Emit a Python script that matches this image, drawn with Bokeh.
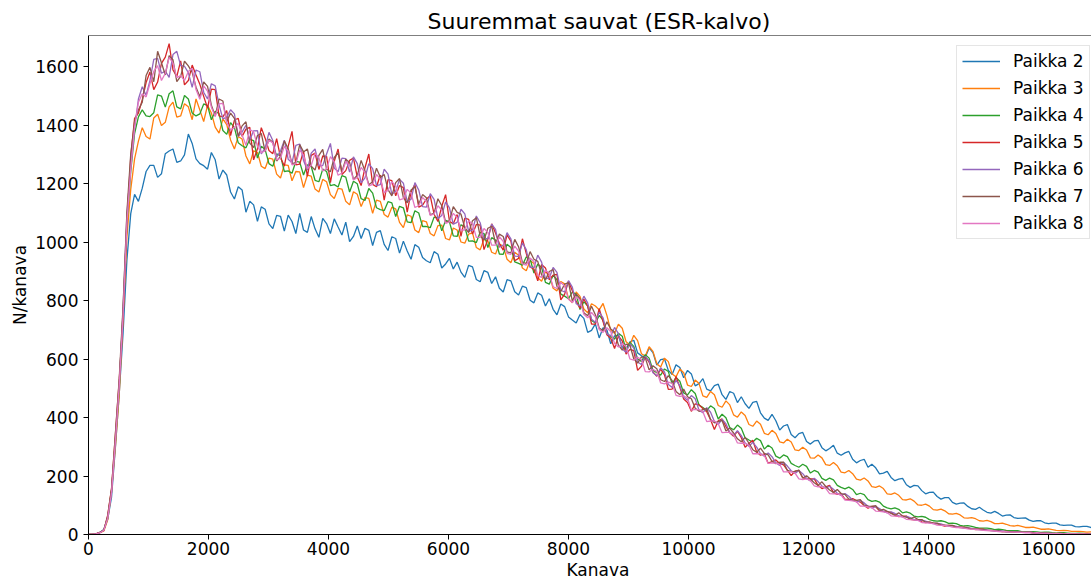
from bokeh.plotting import figure
from bokeh.models import Range1d, Legend, LegendItem, FixedTicker, Span, Title
from bokeh.embed import file_html
from bokeh.resources import INLINE

kanava = list(range(0, 16769, 64))

paikka2 = [0, 0, 1, 7, 17, 52, 128, 297, 481, 688,
           938, 1097, 1163, 1139, 1184, 1241, 1262, 1262, 1221, 1233,
           1302, 1311, 1318, 1272, 1277, 1298, 1369, 1337, 1284, 1268,
           1261, 1249, 1306, 1281, 1215, 1246, 1229, 1171, 1147, 1189,
           1178, 1102, 1139, 1127, 1071, 1120, 1112, 1062, 1046, 1091,
           1088, 1037, 1092, 1070, 1029, 1098, 1041, 1033, 1087, 1045,
           1016, 1081, 1063, 1029, 1079, 1051, 1024, 1068, 1001, 1019,
           1055, 1012, 1047, 1040, 988, 1033, 1039, 992, 971, 1018,
           1012, 962, 1003, 969, 941, 991, 982, 947, 936, 929,
           967, 958, 911, 925, 944, 908, 931, 897, 879, 920,
           915, 872, 864, 902, 896, 858, 881, 842, 829, 871,
           867, 830, 819, 849, 844, 801, 792, 826, 818, 781,
           806, 770, 751, 788, 779, 744, 733, 723, 752, 739,
           691, 698, 720, 672, 707, 699, 652, 679, 681, 641,
           634, 659, 664, 621, 611, 606, 638, 622, 579, 598,
           600, 561, 547, 580, 571, 536, 561, 549, 508, 516,
           533, 497, 491, 509, 514, 478, 462, 489, 483, 451,
           471, 447, 431, 452, 455, 416, 398, 390, 411, 389,
           357, 371, 376, 342, 331, 345, 349, 318, 309, 320,
           322, 297, 286, 294, 305, 278, 271, 279, 284, 257,
           245, 253, 257, 230, 240, 228, 207, 210, 216, 195,
           184, 189, 192, 170, 161, 168, 166, 150, 139, 144,
           145, 130, 121, 126, 126, 110, 104, 107, 108, 96,
           88, 86, 93, 84, 76, 73, 79, 72, 63, 66,
           67, 58, 55, 56, 57, 49, 45, 47, 47, 40,
           37, 39, 39, 33, 31, 32, 32, 27, 26, 28,
           28, 24, 23]

paikka3 = [0, 0, 2, 6, 12, 50, 146, 300, 478, 740,
           1017, 1180, 1284, 1345, 1391, 1361, 1352, 1424, 1437, 1398,
           1409, 1462, 1478, 1427, 1431, 1473, 1462, 1418, 1489, 1451,
           1412, 1467, 1441, 1393, 1372, 1421, 1401, 1349, 1318, 1361,
           1352, 1294, 1267, 1312, 1306, 1259, 1251, 1287, 1283, 1232,
           1219, 1264, 1262, 1209, 1241, 1240, 1186, 1229, 1225, 1181,
           1171, 1214, 1206, 1162, 1149, 1183, 1181, 1139, 1127, 1172,
           1163, 1121, 1152, 1149, 1098, 1143, 1139, 1094, 1085, 1119,
           1113, 1067, 1049, 1093, 1088, 1041, 1032, 1073, 1069, 1029,
           1021, 1056, 1058, 1012, 1007, 1048, 1041, 1000, 996, 1027,
           1031, 981, 973, 1010, 1004, 965, 959, 993, 986, 941,
           929, 965, 955, 911, 902, 936, 927, 878, 866, 899,
           889, 842, 833, 865, 857, 807, 792, 829, 814, 771,
           758, 789, 781, 768, 790, 749, 698, 688, 719, 705,
           659, 648, 681, 663, 618, 610, 642, 626, 584, 573,
           603, 591, 549, 539, 566, 553, 511, 506, 528, 516,
           474, 469, 489, 478, 441, 435, 457, 443, 409, 401,
           419, 407, 376, 370, 388, 377, 346, 341, 356, 345,
           317, 313, 326, 316, 289, 287, 298, 289, 262, 261,
           272, 262, 239, 236, 246, 235, 213, 211, 219, 208,
           189, 186, 193, 183, 164, 161, 166, 157, 139, 137,
           142, 134, 119, 118, 122, 114, 101, 100, 104, 97,
           85, 83, 87, 81, 71, 70, 72, 67, 57, 56,
           58, 54, 47, 46, 48, 44, 37, 37, 39, 35,
           30, 29, 31, 28, 24, 24, 25, 22, 18, 18,
           19, 17, 14, 13, 14, 13, 11, 11, 11, 10,
           8, 9, 9]

paikka4 = [0, 0, 2, 7, 16, 56, 151, 318, 503, 760,
           1062, 1240, 1371, 1428, 1452, 1431, 1429, 1442, 1503, 1499,
           1461, 1507, 1517, 1462, 1455, 1501, 1489, 1441, 1431, 1438,
           1472, 1466, 1418, 1447, 1439, 1381, 1368, 1408, 1391, 1339,
           1329, 1322, 1351, 1347, 1287, 1327, 1316, 1268, 1259, 1301,
           1295, 1241, 1243, 1235, 1276, 1273, 1229, 1264, 1258, 1211,
           1206, 1249, 1241, 1193, 1196, 1188, 1227, 1222, 1171, 1208,
           1199, 1148, 1142, 1183, 1167, 1117, 1111, 1107, 1138, 1134,
           1087, 1122, 1117, 1069, 1066, 1107, 1099, 1053, 1053, 1049,
           1085, 1083, 1038, 1074, 1069, 1021, 1019, 1059, 1051, 1003,
           1004, 998, 1033, 1029, 981, 1015, 1007, 959, 958, 992,
           981, 932, 927, 921, 949, 943, 894, 925, 913, 862,
           856, 886, 871, 822, 815, 806, 829, 821, 769, 796,
           781, 732, 723, 749, 733, 687, 677, 668, 688, 678,
           631, 657, 643, 600, 592, 615, 603, 562, 553, 545,
           566, 557, 515, 537, 524, 484, 477, 495, 482, 443,
           434, 424, 440, 431, 395, 411, 399, 366, 358, 374,
           363, 331, 323, 316, 329, 321, 292, 305, 296, 268,
           261, 272, 266, 243, 236, 230, 240, 233, 210, 219,
           213, 192, 185, 193, 187, 168, 161, 156, 162, 154,
           136, 141, 136, 119, 113, 116, 111, 97, 91, 88,
           91, 86, 74, 77, 73, 63, 60, 62, 59, 51,
           47, 46, 47, 44, 38, 39, 37, 31, 29, 30,
           28, 24, 22, 22, 22, 20, 17, 18, 17, 14,
           13, 13, 13, 10, 9, 9, 10, 9, 7, 8,
           8, 6, 5, 6, 6, 5, 4, 4, 5, 4,
           3, 3, 3]

paikka5 = [0, 0, 3, 7, 14, 66, 158, 341, 527, 742,
           1071, 1290, 1423, 1441, 1486, 1545, 1581, 1521, 1547, 1611,
           1632, 1678, 1588, 1566, 1619, 1537, 1552, 1605, 1571, 1539,
           1498, 1458, 1523, 1521, 1431, 1428, 1449, 1364, 1417, 1423,
           1361, 1386, 1392, 1281, 1319, 1391, 1355, 1313, 1302, 1353,
           1289, 1260, 1327, 1378, 1264, 1266, 1311, 1224, 1296, 1304,
           1248, 1294, 1293, 1203, 1276, 1318, 1231, 1244, 1279, 1287,
           1222, 1193, 1254, 1301, 1197, 1189, 1229, 1143, 1213, 1210,
           1158, 1193, 1186, 1102, 1171, 1197, 1119, 1126, 1147, 1158,
           1095, 1070, 1122, 1162, 1071, 1062, 1094, 1019, 1082, 1077,
           1027, 1060, 1058, 974, 1009, 1062, 1031, 995, 972, 1024,
           1003, 936, 944, 1011, 961, 915, 907, 867, 923, 911,
           871, 887, 889, 802, 822, 866, 833, 797, 774, 805,
           781, 719, 719, 772, 728, 683, 671, 636, 679, 662,
           617, 633, 629, 561, 575, 608, 589, 556, 541, 565,
           546, 496, 497, 540, 503, 463, 451, 421, 447, 443,
           431, 420, 392, 359, 389, 395, 369, 348, 336, 353,
           331, 298, 311, 322, 282, 271, 276, 244, 249, 255,
           243, 238, 220, 201, 217, 219, 194, 191, 190, 190,
           168, 157, 163, 168, 143, 137, 139, 121, 119, 123,
           116, 111, 99, 90, 96, 95, 81, 79, 78, 76,
           65, 61, 63, 63, 52, 50, 51, 43, 41, 42,
           39, 37, 32, 29, 31, 30, 25, 24, 24, 23,
           19, 17, 18, 18, 14, 13, 13, 11, 10, 11,
           10, 9, 8, 7, 7, 8, 6, 5, 5, 5,
           4, 3, 4, 4, 3, 2, 2, 2, 2, 2,
           2, 1, 1]

paikka6 = [0, 0, 2, 6, 16, 58, 146, 322, 515, 771,
           1094, 1262, 1389, 1489, 1531, 1502, 1552, 1624, 1628, 1577,
           1584, 1563, 1641, 1652, 1603, 1601, 1579, 1529, 1588, 1582,
           1512, 1489, 1541, 1534, 1469, 1421, 1427, 1452, 1438, 1361,
           1376, 1399, 1349, 1380, 1381, 1301, 1322, 1375, 1347, 1290,
           1311, 1348, 1283, 1271, 1330, 1335, 1279, 1246, 1304, 1318,
           1262, 1261, 1301, 1337, 1253, 1240, 1287, 1285, 1239, 1291,
           1268, 1202, 1219, 1268, 1251, 1193, 1196, 1249, 1232, 1162,
           1174, 1214, 1201, 1137, 1146, 1203, 1178, 1121, 1119, 1165,
           1146, 1080, 1091, 1137, 1117, 1061, 1067, 1112, 1096, 1036,
           1041, 1089, 1066, 1011, 1012, 1061, 1043, 982, 989, 1032,
           1011, 952, 951, 997, 974, 913, 913, 955, 931, 874,
           877, 913, 896, 835, 829, 868, 846, 789, 781, 815,
           792, 736, 726, 760, 741, 686, 679, 708, 687, 634,
           623, 652, 637, 590, 581, 609, 594, 553, 543, 570,
           556, 513, 503, 527, 509, 469, 459, 475, 464, 425,
           416, 434, 418, 386, 377, 394, 379, 349, 339, 355,
           338, 313, 302, 315, 299, 277, 268, 279, 266, 245,
           236, 247, 234, 218, 209, 219, 208, 192, 183, 192,
           181, 166, 158, 165, 155, 141, 134, 140, 131, 118,
           111, 116, 108, 97, 91, 95, 89, 79, 74, 77,
           72, 64, 60, 62, 58, 51, 48, 49, 46, 40,
           37, 38, 36, 31, 29, 30, 28, 24, 22, 23,
           21, 18, 17, 17, 16, 13, 12, 13, 12, 9,
           9, 10, 9, 7, 7, 8, 6, 5, 5, 5,
           4, 3, 3, 4, 3, 2, 2, 2, 2, 1,
           1, 2, 1]

paikka7 = [0, 0, 2, 7, 15, 63, 155, 344, 532, 779,
           1102, 1301, 1411, 1452, 1478, 1569, 1597, 1548, 1652, 1613,
           1571, 1637, 1623, 1548, 1566, 1618, 1602, 1580, 1529, 1497,
           1547, 1532, 1468, 1431, 1489, 1482, 1411, 1441, 1423, 1362,
           1397, 1411, 1338, 1323, 1364, 1371, 1309, 1352, 1341, 1277,
           1293, 1346, 1319, 1268, 1271, 1333, 1308, 1318, 1259, 1246,
           1296, 1317, 1249, 1240, 1289, 1305, 1241, 1283, 1272, 1214,
           1228, 1279, 1243, 1196, 1206, 1252, 1221, 1231, 1179, 1158,
           1203, 1217, 1152, 1134, 1178, 1189, 1129, 1162, 1151, 1093,
           1099, 1148, 1124, 1068, 1072, 1121, 1101, 1095, 1049, 1032,
           1073, 1083, 1021, 1007, 1047, 1054, 994, 1027, 1019, 966,
           963, 1009, 984, 930, 927, 967, 941, 934, 888, 871,
           899, 906, 848, 831, 856, 861, 799, 823, 806, 758,
           748, 780, 751, 706, 697, 727, 703, 692, 648, 630,
           651, 647, 601, 586, 607, 604, 563, 577, 567, 529,
           523, 543, 526, 489, 478, 497, 471, 464, 432, 421,
           427, 430, 393, 382, 386, 390, 354, 364, 347, 327,
           317, 332, 312, 290, 281, 295, 277, 272, 250, 242,
           247, 247, 219, 215, 216, 220, 193, 201, 190, 177,
           168, 180, 164, 152, 144, 154, 140, 137, 121, 117,
           117, 119, 100, 97, 96, 99, 82, 86, 79, 72,
           66, 74, 63, 59, 53, 60, 51, 51, 42, 42,
           40, 39, 33, 32, 31, 31, 25, 26, 24, 22,
           19, 20, 18, 16, 14, 15, 13, 12, 10, 11,
           9, 9, 8, 8, 7, 7, 6, 6, 5, 5,
           4, 4, 3, 3, 3, 3, 2, 2, 2, 2,
           2, 1, 1]

paikka8 = [0, 0, 2, 6, 14, 55, 143, 318, 509, 748,
           1066, 1249, 1392, 1478, 1507, 1496, 1541, 1583, 1603, 1552,
           1577, 1631, 1612, 1562, 1569, 1552, 1583, 1594, 1521, 1488,
           1534, 1516, 1461, 1429, 1472, 1474, 1409, 1383, 1391, 1406,
           1366, 1331, 1384, 1377, 1327, 1305, 1312, 1348, 1339, 1281,
           1287, 1327, 1311, 1264, 1268, 1314, 1297, 1251, 1262, 1303,
           1288, 1243, 1251, 1292, 1274, 1228, 1236, 1275, 1262, 1212,
           1221, 1255, 1238, 1192, 1197, 1231, 1215, 1169, 1176, 1206,
           1192, 1144, 1148, 1180, 1167, 1118, 1124, 1152, 1139, 1091,
           1096, 1124, 1109, 1064, 1069, 1098, 1084, 1041, 1041, 1073,
           1062, 1016, 1016, 1046, 1033, 989, 989, 1018, 1002, 961,
           958, 986, 969, 925, 921, 945, 933, 886, 879, 904,
           891, 847, 841, 862, 849, 804, 793, 813, 801, 753,
           741, 759, 744, 701, 691, 707, 694, 653, 641, 653,
           643, 600, 596, 606, 598, 557, 556, 564, 558, 518,
           515, 521, 517, 476, 472, 474, 466, 425, 428, 427,
           420, 386, 388, 388, 379, 348, 349, 349, 341, 313,
           312, 312, 305, 276, 276, 276, 270, 243, 245, 244,
           240, 214, 214, 215, 210, 190, 188, 190, 184, 166,
           163, 164, 158, 140, 139, 139, 135, 118, 117, 115,
           112, 97, 97, 94, 92, 80, 79, 77, 75, 64,
           63, 62, 60, 52, 51, 50, 48, 41, 40, 39,
           37, 32, 31, 31, 29, 25, 24, 24, 22, 19,
           18, 18, 16, 14, 13, 13, 12, 10, 10, 10,
           8, 8, 7, 7, 6, 6, 5, 6, 4, 4,
           4, 4, 3, 3, 2, 3, 2, 2, 2, 2,
           1, 1, 1]

series_names = ["Paikka 2", "Paikka 3", "Paikka 4", "Paikka 5",
                "Paikka 6", "Paikka 7", "Paikka 8"]
series_values = [paikka2, paikka3, paikka4, paikka5, paikka6, paikka7, paikka8]
colors = ["#1f77b4", "#ff7f0e", "#2ca02c", "#d62728",
          "#9467bd", "#8c564b", "#e377c2"]
x_ticks = [0, 2000, 4000, 6000, 8000, 10000, 12000, 14000, 16000]
y_ticks = [0, 200, 400, 600, 800, 1000, 1200, 1400, 1600]

FONT = "DejaVu Sans"

p = figure(width=1091, height=580, output_backend="svg", toolbar_location=None,
           x_range=Range1d(0, 16717), y_range=Range1d(0, 1706),
           min_border_left=88, min_border_right=0, min_border_top=35,
           min_border_bottom=46, title="Suuremmat sauvat (ESR-kalvo)")
p.background_fill_color = "white"
p.border_fill_color = "white"
p.outline_line_color = None
p.grid.visible = False

p.title.text_font = FONT
p.title.text_font_size = "22px"
p.title.text_font_style = "normal"
p.title.align = "left"
p.title.offset = 339
p.title.standoff = 4
p.title.text_color = "black"

items = []
for name, vals, col in zip(series_names, series_values, colors):
    r = p.line(kanava, vals, line_color=col, line_width=1.3)
    items.append(LegendItem(label=name, renderers=[r]))

for ax in (p.xaxis[0], p.yaxis[0]):
    ax.axis_line_color = "black"
    ax.axis_line_width = 1
    ax.major_tick_line_color = "black"
    ax.major_tick_in = 0
    ax.major_tick_out = 5
    ax.minor_tick_line_color = None
    ax.major_label_text_font = FONT
    ax.major_label_text_font_size = "17px"
    ax.major_label_text_color = "black"
    ax.axis_label_text_font = FONT
    ax.axis_label_text_font_size = "17px"
    ax.axis_label_text_font_style = "normal"
    ax.axis_label_text_color = "black"

p.xaxis[0].ticker = FixedTicker(ticks=x_ticks)
p.yaxis[0].ticker = FixedTicker(ticks=y_ticks)
p.yaxis[0].axis_label = "N/kanava"
p.xaxis[0].major_label_standoff = 2
p.yaxis[0].major_label_standoff = 5
p.yaxis[0].axis_label_standoff = 2

x_title = Title(text="Kanava", align="left", offset=478, standoff=0,
                text_font=FONT, text_font_size="17px", text_font_style="normal",
                text_color="black")
p.add_layout(x_title, "below")

p.add_layout(Span(location=1706, dimension="width", line_color="black", line_width=1))

legend = Legend(items=items, location=(868, 295))
legend.label_text_font = FONT
legend.label_text_font_size = "17px"
legend.label_text_color = "black"
legend.glyph_width = 38
legend.glyph_height = 20
legend.label_height = 20
legend.label_standoff = 13
legend.spacing = 7
legend.padding = 5
legend.margin = 0
legend.border_line_color = "#cccccc"
legend.border_line_width = 1
legend.background_fill_color = "white"
legend.background_fill_alpha = 0.8
p.add_layout(legend)

open("out.html", "w").write(file_html(p, INLINE))
